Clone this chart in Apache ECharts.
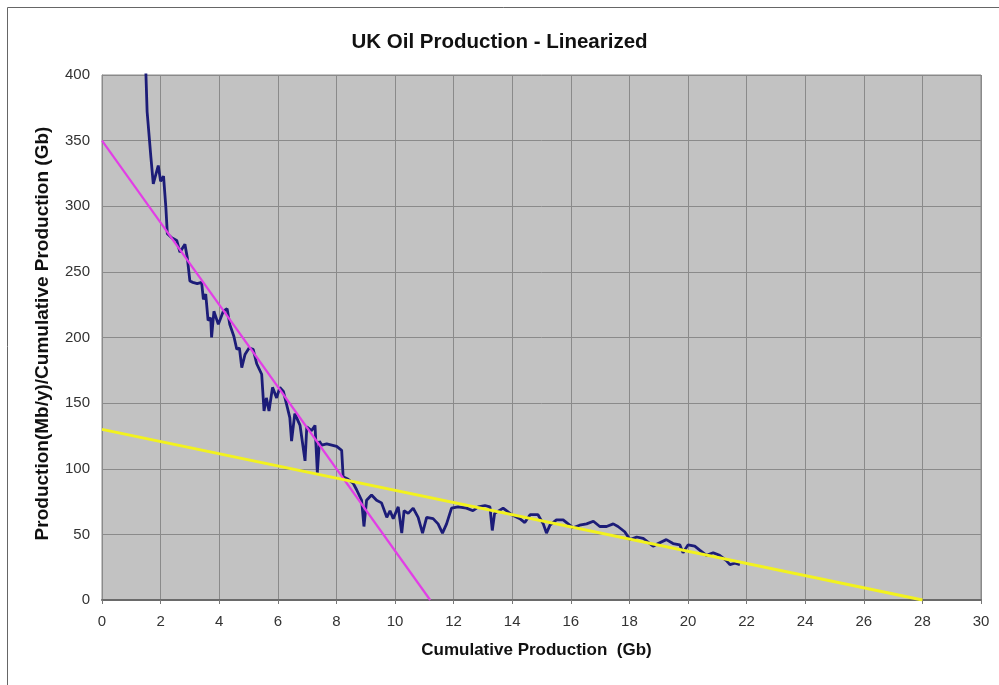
<!DOCTYPE html>
<html>
<head>
<meta charset="utf-8">
<script src="https://cdn.jsdelivr.net/npm/echarts@6/dist/echarts.min.js"></script>
<style>
html,body{margin:0;padding:0;background:#fff;}
#chart{width:999px;height:685px;}
</style>
</head>
<body>
<div id="chart"></div>
<script>
// Cumulative production (Gb) vs production/cumulative production
const ukX = [1.46,1.50,1.54,1.67,1.75,1.92,2.00,2.10,2.18,2.23,2.38,2.55,2.66,2.83,2.91,3.00,3.10,3.25,3.40,3.46,3.54,3.62,3.71,3.74,3.82,3.97,4.14,4.27,4.36,4.50,4.60,4.69,4.77,4.88,5.02,5.16,5.28,5.45,5.53,5.61,5.70,5.82,5.96,6.07,6.19,6.30,6.41,6.47,6.58,6.76,6.93,6.99,7.15,7.27,7.35,7.42,7.50,7.67,8.01,8.18,8.23,8.40,8.57,8.69,8.86,8.94,9.03,9.20,9.37,9.54,9.72,9.83,9.94,10.11,10.23,10.31,10.45,10.62,10.79,10.94,11.08,11.30,11.47,11.62,11.76,11.93,12.15,12.44,12.66,12.84,13.07,13.24,13.32,13.40,13.46,13.69,13.98,14.26,14.43,14.61,14.88,15.06,15.17,15.29,15.51,15.74,16.08,16.30,16.54,16.77,16.99,17.22,17.45,17.61,17.84,18.02,18.25,18.47,18.81,18.98,19.26,19.49,19.72,19.83,20.00,20.23,20.40,20.63,20.86,21.08,21.31,21.43,21.60,21.77];
const ukY = [430,400,372,337,317,331,319,323,299,279,276,274,265,271,261,243,242,241,242,229,233,213,215,200,220,210,220,222,210,201,191,192,177,187,192,191,180,172,144,154,144,162,154,162,159,149,139,121,142,133,106,132,129,133,97,121,118,119,117,114,94,92,89,84,76,56,76,80,76,74,63,68,62,71,51,68,66,70,63,51,63,62,58,51,58,70,71,70,68,71,72,71,53,66,67,70,65,62,59,65,65,58,51,57,61,61,55,57,58,60,56,56,58,56,52,46,48,47,41,43,46,43,42,36,42,41,38,34,36,34,30,27,28,27];
// Linear fits (x, y) end points
const fitEarlyX = [0, 11.2];
const fitEarlyY = [350, 0];
const fitLateX = [0, 28];
const fitLateY = [130, 0];
const xTicks = [0,2,4,6,8,10,12,14,16,18,20,22,24,26,28,30];
const yTicks = [0,50,100,150,200,250,300,350,400];

const zip = (a, b) => a.map((v, i) => [v, b[i]]);
const FONT = '"Liberation Sans", Arial, sans-serif';

const chart = echarts.init(document.getElementById('chart'));
chart.setOption({
  animation: false,
  backgroundColor: '#ffffff',
  title: {
    text: 'UK Oil Production - Linearized',
    left: 'center',
    top: 27,
    textStyle: { fontFamily: FONT, fontWeight: 'bold', fontSize: 20.5, color: '#111' }
  },
  graphic: [{
    type: 'rect',
    left: 5, top: 5,
    shape: { width: 1000, height: 678 },
    style: { fill: 'none', stroke: '#666', lineWidth: 1 },
    silent: true,
    z: -1
  }],
  grid: {
    left: 102, right: 18, top: 75, bottom: 85,
    show: true,
    backgroundColor: '#c2c2c2',
    borderColor: '#8a8a8a',
    borderWidth: 1
  },
  xAxis: {
    type: 'value',
    min: xTicks[0], max: xTicks[xTicks.length - 1], interval: 2,
    name: 'Cumulative Production  (Gb)',
    nameLocation: 'middle',
    nameGap: 42,
    nameTextStyle: { fontFamily: FONT, fontWeight: 'bold', fontSize: 17, color: '#111', padding: [0, 10, 0, 0] },
    axisLine: { show: true, onZero: false, lineStyle: { color: '#6a6a6a', width: 2 } },
    axisTick: { show: true, length: 4, lineStyle: { color: '#777' } },
    axisLabel: { margin: 14, fontFamily: FONT, fontSize: 15, color: '#333' },
    splitLine: { show: true, lineStyle: { color: '#8a8a8a', width: 1 } }
  },
  yAxis: {
    type: 'value',
    min: yTicks[0], max: yTicks[yTicks.length - 1], interval: 50,
    name: 'Production(Mb/y)/Cumulative Production (Gb)',
    nameLocation: 'middle',
    nameGap: 50,
    nameTextStyle: { fontFamily: FONT, fontWeight: 'bold', fontSize: 19, color: '#111', padding: [0, 0, 0, 8] },
    axisLine: { show: true, lineStyle: { color: '#8a8a8a', width: 1 } },
    axisTick: { show: false },
    axisLabel: { margin: 12, fontFamily: FONT, fontSize: 15, color: '#333' },
    splitLine: { show: true, lineStyle: { color: '#8a8a8a', width: 1 } }
  },
  series: [
    {
      type: 'line',
      data: zip(ukX, ukY),
      showSymbol: false,
      symbol: 'none',
      clip: true,
      lineStyle: { color: '#1c1c78', width: 2.8 },
      z: 2
    },
    {
      type: 'line',
      data: zip(fitEarlyX, fitEarlyY),
      symbol: 'none',
      clip: true,
      lineStyle: { color: '#e23ee6', width: 2.2 },
      z: 3
    },
    {
      type: 'line',
      data: zip(fitLateX, fitLateY),
      symbol: 'none',
      clip: true,
      lineStyle: { color: '#f2f21e', width: 3 },
      z: 3
    }
  ]
});
</script>
</body>
</html>
